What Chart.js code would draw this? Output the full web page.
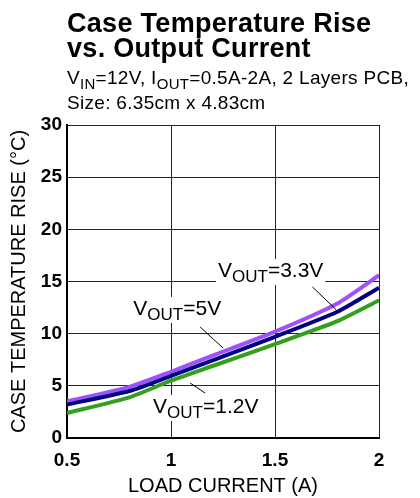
<!DOCTYPE html>
<html>
<head>
<meta charset="utf-8">
<script src="https://cdn.jsdelivr.net/npm/chart.js@4.4.1/dist/chart.umd.min.js"></script>
<style>
  html, body { margin: 0; padding: 0; background: #fff; }
  #wrap { position: relative; width: 420px; height: 498px; font-family: "Liberation Sans", Arial, sans-serif; }
  #temps { position: absolute; left: 0; top: 0; }
  .t { position: absolute; left: 67px; white-space: nowrap; color: #000; }
  .big { font-size: 27px; line-height: 27px; font-weight: bold; letter-spacing: 0.3px; }
  .small { font-size: 19px; line-height: 19px; letter-spacing: 0.3px; }
  .sub { font-size: 15px; position: relative; top: 5px; }
</style>
</head>
<body>
<div id="wrap">
  <canvas id="temps" width="420" height="498"></canvas>
  <div class="t big" style="top:10px">Case Temperature Rise</div>
  <div class="t big" style="top:35px">vs. Output Current</div>
  <div class="t small" style="top:68px">V<span class="sub">IN</span>=12V, I<span class="sub">OUT</span>=0.5A-2A, 2 Layers PCB,</div>
  <div class="t small" style="top:93px">Size: 6.35cm x 4.83cm</div>
</div>
<script>
// corriente de carga (A)
const corriente = [0.5, 0.8, 1, 1.2, 1.5, 1.8, 2];
// subida de temperatura (°C) por tension de salida
const vout5 = [3.5, 4.9, 6.35, 7.9, 10.2, 12.9, 15.6];
const vout33 = [3.2, 4.5, 5.95, 7.45, 9.7, 12.1, 14.4];
const vout12 = [2.4, 3.9, 5.5, 6.9, 9.0, 11.2, 13.2];

const puntos = (ys) => corriente.map((x, i) => ({ x: x, y: ys[i] }));

// etiquetas con subindice y linea guia (coordenadas en unidades de datos)
const etiquetas = [
  { sub: 'OUT', txt: '=3.3V', x: 1.226, y: 15.43, linea: [1.68, 14.48, 1.795, 12.27] },
  { sub: 'OUT', txt: '=5V', x: 0.819, y: 11.8, linea: [1.14, 10.64, 1.25, 8.63] },
  { sub: 'OUT', txt: '=1.2V', x: 0.914, y: 2.4, linea: [1.092, 5.27, 1.164, 4.31] }
];

const fuente = '"Liberation Sans", Arial, sans-serif';

const pluginEtiquetas = {
  id: 'etiquetas',
  afterDatasetsDraw(chart) {
    const c = chart.ctx;
    const sx = chart.scales.x, sy = chart.scales.y;
    c.save();
    etiquetas.forEach(e => {
      // linea guia
      c.strokeStyle = '#000';
      c.lineWidth = 1;
      c.beginPath();
      c.moveTo(sx.getPixelForValue(e.linea[0]), sy.getPixelForValue(e.linea[1]));
      c.lineTo(sx.getPixelForValue(e.linea[2]), sy.getPixelForValue(e.linea[3]));
      c.stroke();

      const px = sx.getPixelForValue(e.x);
      const py = sy.getPixelForValue(e.y);
      c.font = '21px ' + fuente;
      const w1 = c.measureText('V').width;
      const w3 = c.measureText(e.txt).width;
      c.font = '17px ' + fuente;
      const w2 = c.measureText(e.sub).width;
      // fondo blanco
      c.fillStyle = '#fff';
      c.fillRect(px - 2, py - 18, w1 + w2 + w3 + 4, 26);
      c.fillStyle = '#000';
      c.textBaseline = 'alphabetic';
      c.textAlign = 'left';
      c.font = '21px ' + fuente;
      c.fillText('V', px, py);
      c.font = '17px ' + fuente;
      c.fillText(e.sub, px + w1, py + 5);
      c.font = '21px ' + fuente;
      c.fillText(e.txt, px + w1 + w2, py);
    });
    c.restore();
  }
};

const ctx = document.getElementById('temps');

new Chart(ctx, {
  type: 'line',
  data: {
    datasets: [
      { label: 'VOUT=1.2V', data: puntos(vout12), borderColor: '#33a01c', borderWidth: 4, pointRadius: 0, tension: 0.2, fill: false },
      { label: 'VOUT=3.3V', data: puntos(vout33), borderColor: '#000080', borderWidth: 4, pointRadius: 0, tension: 0.2, fill: false },
      { label: 'VOUT=5V', data: puntos(vout5), borderColor: '#a050ff', borderWidth: 4, pointRadius: 0, tension: 0.2, fill: false }
    ]
  },
  options: {
    responsive: false,
    animation: false,
    layout: { padding: { top: 125, right: 41, left: 0, bottom: 0 } },
    scales: {
      x: {
        type: 'linear',
        min: 0.5,
        max: 2,
        afterFit: (s) => { s.height = 60; },
        grid: { color: '#222', lineWidth: 1, drawTicks: false },
        border: { color: '#000', width: 2 },
        ticks: {
          stepSize: 0.5,
          color: '#000',
          padding: 11,
          maxRotation: 0,
          font: { size: 19, weight: 'bold', family: fuente },
          callback: (v) => v
        },
        title: {
          display: true,
          text: 'LOAD CURRENT (A)',
          color: '#000',
          padding: { top: 0, bottom: 0 },
          font: { size: 20, family: fuente }
        }
      },
      y: {
        min: 0,
        max: 30,
        afterFit: (s) => { s.width = 67; },
        grid: { color: '#222', lineWidth: 1, drawTicks: false },
        border: { color: '#000', width: 2 },
        ticks: {
          stepSize: 5,
          color: '#000',
          padding: 5,
          font: { size: 19, weight: 'bold', family: fuente }
        },
        title: {
          display: true,
          text: 'CASE TEMPERATURE RISE (°C)',
          color: '#000',
          padding: { top: 7, bottom: 0 },
          font: { size: 20, family: fuente }
        }
      }
    },
    plugins: {
      legend: { display: false },
      tooltip: { enabled: false }
    }
  },
  plugins: [pluginEtiquetas]
});
</script>
</body>
</html>
